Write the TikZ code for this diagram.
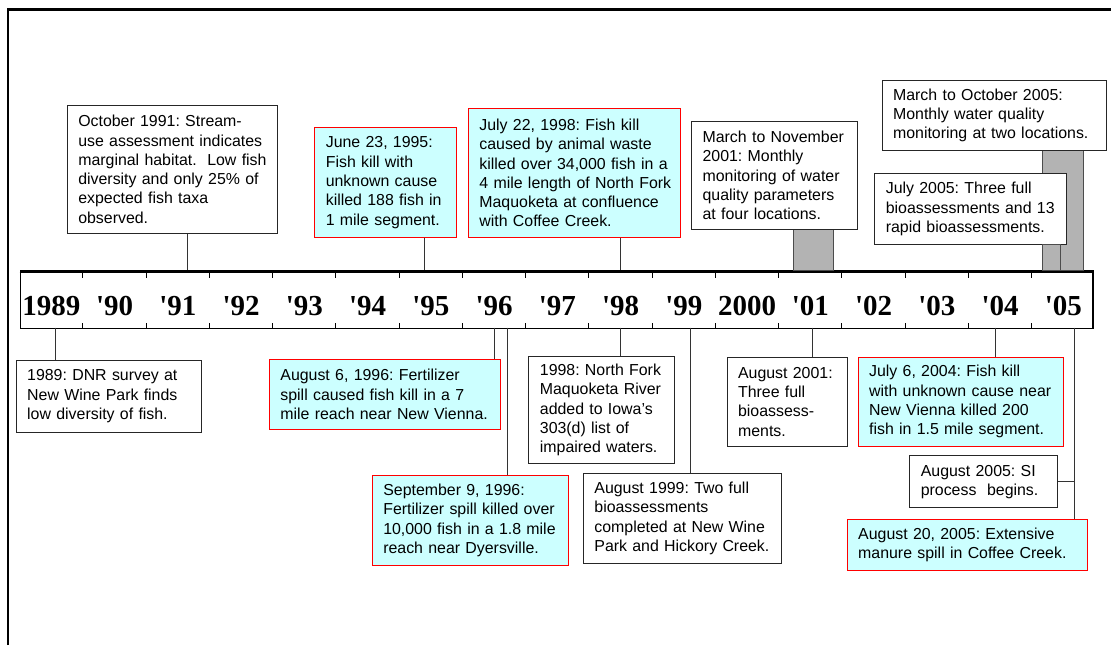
\documentclass[tikz,border=0pt]{standalone}
\usepackage{fontspec}
\setmainfont{Liberation Sans}
\newfontfamily\yearfont{Liberation Serif}[Ligatures=TeXOff]
\definecolor{killfill}{HTML}{CCFFFF}
\definecolor{barfill}{HTML}{B3B3B3}
\frenchspacing
\tikzstyle{eventbox}=[draw=black!85,line width=0.5pt,fill=white,anchor=north west,align=left,inner xsep=5.5pt,inner ysep=0pt,font=\fontsize{7.95}{9.65}\selectfont]
\tikzstyle{killbox}=[eventbox,draw=red,fill=killfill]
\tikzstyle{connector}=[draw=black!80,line width=0.5pt]
\tikzstyle{monthbar}=[draw=black!70,fill=barfill,line width=0.5pt]
\tikzstyle{yearlabel}=[font=\yearfont\bfseries\fontsize{14.5}{16}\selectfont,anchor=base,inner sep=0pt]
\tikzstyle{yeartick}=[draw=black,line width=0.5pt]

\begin{document}
\begin{tikzpicture}[x=0.5pt,y=-0.5pt]
  \useasboundingbox (0,0) rectangle (1111,645);

  % frame
  \draw[line width=1.3pt] (8,645) -- (8,9.3) -- (1111,9.3);

  % time line
  \node[draw,line width=0.9pt,anchor=north west,inner sep=0pt,minimum width=536.2pt,minimum height=28.75pt] (bar) at (19.65,270) {};
  \draw[yeartick] (19.65,272.8) -- (1092,272.8);
  \foreach \k in {1,...,16}{
    \draw[yeartick] (19.65+63.25*\k,273) -- ++(0,5);
    \draw[yeartick] (19.65+63.25*\k,327.5) -- ++(0,-5);
  }
  \foreach \yr [count=\i from 0] in {1989,'90,'91,'92,'93,'94,'95,'96,'97,'98,'99,2000,'01,'02,'03,'04,'05}
    \node[yearlabel] (y\i) at (51.3+63.25*\i,315) {\yr};

  % monitoring periods
  \draw[monthbar] (793.1,229.3) rectangle (833.9,270);
  \draw[monthbar] (1042.5,150) rectangle (1083.3,270);

  % events above the line
  \node[eventbox,text width=94pt,minimum height=63.85pt] (oct91) at (66.8,105)
    {October 1991: Stream-\\use assessment indicates\\\mbox{marginal habitat.\ \ Low fish}\\diversity and only 25\% of\\expected fish taxa\\observed.};
  \node[killbox,text width=59.7pt,minimum height=54.7pt] (jun95) at (314.3,127.3)
    {June 23, 1995:\\Fish kill with\\unknown cause\\killed 188 fish in\\1 mile segment.};
  \node[killbox,text width=95.15pt,minimum height=64.2pt] (jul98) at (467.9,108.3)
    {July 22, 1998: Fish kill\\caused by animal waste\\killed over 34,000 fish in a\\\mbox{4 mile length of North Fork}\\Maquoketa at confluence\\with Coffee Creek.};
  \node[eventbox,text width=71.85pt,minimum height=54.3pt] (mar01) at (691.1,120.7)
    {March to November\\2001: Monthly\\monitoring of water\\quality parameters\\at four locations.};
  \node[eventbox,text width=100.95pt,minimum height=35pt] (mar05) at (881.6,80)
    {March to October 2005:\\Monthly water quality\\monitoring at two locations.};
  \node[eventbox,text width=84.95pt,minimum height=35.35pt] (jul05) at (874.3,173.3)
    {July 2005: Three full\\bioassessments and 13\\rapid bioassessments.};
  \draw[monthbar] (1042.5,244) rectangle (1060.7,270);

  % events below the line
  \node[eventbox,text width=81.5pt,minimum height=35.85pt] (dnr89) at (15.7,360)
    {1989: DNR survey at\\New Wine Park finds\\low diversity of fish.};
  \node[killbox,text width=104.55pt,minimum height=35.3pt] (aug96) at (268.9,358.7)
    {August 6, 1996: Fertilizer\\spill caused fish kill in a 7\\mile reach near New Vienna.};
  \node[killbox,text width=87.2pt,minimum height=45pt] (sep96) at (371.8,475)
    {September 9, 1996:\\Fertilizer spill killed over\\10,000 fish in a 1.8 mile\\reach near Dyersville.};
  \node[eventbox,text width=61.8pt,minimum height=53.8pt] (nf98) at (528.4,355.7)
    {1998: North Fork\\Maquoketa River\\added to Iowa’s\\303(d) list of\\impaired waters.};
  \node[eventbox,text width=88.25pt,minimum height=44.7pt] (aug99) at (582.9,473.3)
    {August 1999: Two full\\bioassessments\\completed at New Wine\\Park and Hickory Creek.};
  \node[eventbox,text width=49pt,minimum height=44.5pt] (aug01) at (726.6,356.7)
    {August 2001:\\Three full\\bioassess-\\ments.};
  \node[killbox,text width=91.5pt,minimum height=44.5pt] (jul04) at (857.6,356.7)
    {July 6, 2004: Fish kill\\with unknown cause near\\New Vienna killed 200\\fish in 1.5 mile segment.};
  \node[eventbox,text width=62.7pt,minimum height=26pt] (si05) at (909.3,455.3)
    {August 2005: SI\\\mbox{process\ \ begins.}};
  \node[killbox,text width=109.3pt,minimum height=25.8pt] (aug05) at (846.7,518.7)
    {August 20, 2005: Extensive\\manure spill in Coffee Creek.};

  % connectors
  \foreach \name/\x in {oct91/187.5, jun95/424.3, jul98/620.1}{
    \coordinate (d-\name) at (\x,270);
    \draw[connector] (\name.south -| d-\name) -- (d-\name);
  }
  \foreach \name/\x in {dnr89/55.4, aug96/494, sep96/507.1, nf98/620.1, aug99/690.4, aug01/812.4, jul04/995.2, aug05/1074}{
    \coordinate (d-\name) at (\x,327.5);
    \draw[connector] (d-\name) -- (\name.north -| d-\name);
  }
  \draw[connector] (si05.east) -- (si05.east -| d-aug05);
\end{tikzpicture}
\end{document}
